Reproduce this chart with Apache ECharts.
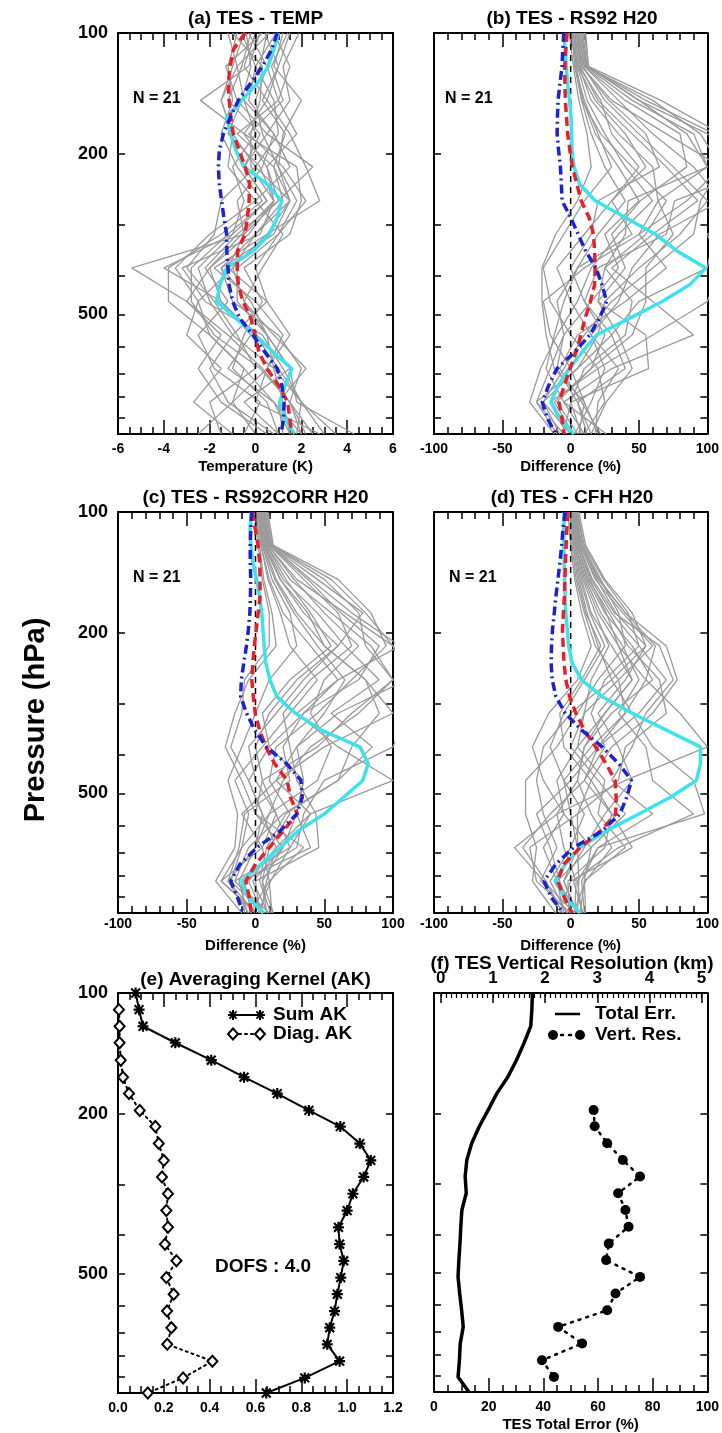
<!DOCTYPE html>
<html>
<head>
<meta charset="utf-8">
<script src="https://cdn.jsdelivr.net/npm/echarts@6/dist/echarts.min.js"></script>
<style>
  html, body { margin: 0; padding: 0; background: #fff; }
  #chart { width: 722px; height: 1433px; }
</style>
</head>
<body>
<div id="chart"></div>
<script>
// ---------- pressure levels (hPa) ----------
const LEVELS = [100, 110, 121, 133, 147, 162, 178, 196, 215, 237, 261, 287, 316, 348, 383, 422, 464, 511, 562, 619, 681, 749, 825, 908, 990];
const PROFILE_LEVELS = [100, 121, 147, 178, 215, 261, 316, 383, 464, 562, 681, 825, 990];
const P_MIN = 100;
const P_MAX = 990;
const P_TICKS = [100, 200, 300, 400, 500, 600, 700, 800, 900];
const P_LABELS = [100, 200, 500];

// ---------- (a) TES - TEMP, K ----------
const TEMP_RED  = [-0.45, -0.97, -1.1, -1.19, -1.15, -1.08, -0.97, -0.7, -0.45, -0.26, -0.28, -0.35, -0.46, -0.78, -0.8, -0.75, -0.55, -0.2, -0.02, 0.15, 0.5, 1.0, 1.4, 1.5, 1.58];
const TEMP_BLUE = [0.95, 0.7, 0.3, -0.2, -0.75, -1.1, -1.4, -1.58, -1.62, -1.58, -1.48, -1.38, -1.26, -1.25, -1.2, -1.15, -1.0, -0.68, -0.12, 0.4, 0.95, 1.15, 1.25, 1.22, 1.12];
const TEMP_CYAN = [1.0, 0.8, 0.55, 0.1, -0.6, -1.26, -1.08, -0.85, -0.5, 0.5, 1.14, 0.95, 0.6, -0.1, -1.26, -1.55, -1.7, -0.85, 0.0, 0.75, 1.58, 1.3, 1.05, 1.3, 1.7];
const TEMP_PROFILES = [
  [0.2, -0.3, -2.4, -0.5, 0.5, 1.0, -0.5, -5.4, -3.0, -1.2, 0.3, 1.5, 2.5],
  [1.5, 1.0, 0.5, 1.5, 2.2, 2.8, 0.5, -1.0, -0.5, 0.5, 1.5, 1.8, 4.3],
  [-0.8, -1.2, -1.0, -1.5, -0.8, 0.3, -1.5, -3.8, -3.8, -2.0, -0.5, 0.8, 1.5],
  [0.5, 0.2, -0.5, 0.8, 1.5, 0.0, -2.0, -3.5, -2.5, -3.0, -1.5, -2.7, -1.0],
  [-0.5, -1.0, -1.5, -1.0, 0.0, 1.5, 0.8, -1.5, -1.0, 1.0, 2.0, 1.5, 2.0],
  [1.0, 0.5, 0.0, 0.3, 1.0, 1.8, 1.0, 0.0, 0.5, 1.5, 0.5, -1.0, -2.5],
  [-1.2, -0.8, -0.5, 0.0, -1.0, -0.5, -1.0, -2.5, -2.0, -1.0, 0.8, 2.0, 3.0],
  [0.8, 1.5, 1.0, 1.8, 0.5, 0.8, -0.3, -2.0, -3.0, -1.5, -2.5, -1.5, 0.5],
  [0.0, -0.5, 0.5, -0.5, 1.8, 2.0, 1.5, -0.5, 0.3, -0.5, -1.0, 0.5, 1.0],
  [1.9, 1.2, 1.5, 0.5, -0.5, 0.5, -1.0, -4.0, -1.5, 0.0, 1.0, 2.0, 1.8],
  [-0.3, 0.5, 1.0, -0.8, 0.8, 1.2, 0.0, -1.0, -2.5, -2.0, -0.5, -1.0, 0.0],
  [0.6, -0.8, -1.5, -1.0, -1.2, 0.0, 1.2, 0.3, -0.5, 0.8, 2.2, 1.0, 1.2],
  [-0.6, 0.0, 0.8, 1.0, 0.0, -1.5, -1.8, -3.0, -1.8, -0.8, 0.0, -2.0, -1.5],
  [1.2, 0.8, 2.0, 1.2, 1.0, 1.5, 0.5, -1.8, 0.0, 1.2, 0.5, 0.0, 2.8],
  [0.3, -1.3, -0.8, 0.5, 2.5, 1.0, -0.8, -2.2, -1.2, -2.5, -1.8, 0.2, -0.5],
  [-1.0, 0.3, 0.2, -0.2, -0.2, 0.8, 0.2, -3.2, -2.2, 0.3, 1.2, 2.0, 3.5],
  [0.9, 0.0, -0.3, 0.8, 0.3, -0.8, -0.5, -1.2, 0.5, -1.0, -2.0, -1.2, 0.8],
  [1.4, 0.7, 1.2, -0.3, 1.2, 2.2, 1.0, -0.8, -0.8, 0.5, 0.8, 1.2, 1.5],
  [-0.2, -0.6, -1.2, 0.2, -0.5, 0.5, -1.2, -2.8, -2.8, -1.8, 0.2, 1.5, 2.2],
  [0.4, 1.0, 0.3, 1.3, 0.8, 1.5, 0.0, -1.5, -0.2, 0.5, 1.5, -0.5, 1.0],
  [-0.4, -0.2, -0.6, -1.2, 0.2, 0.8, -0.6, -2.0, -1.5, -0.2, -1.2, 0.8, 2.0]
];

// ---------- (b) TES - RS92 H2O, % ----------
const RS92_RED  = [-2.6, -3.5, -4.3, -4.2, -3.9, -3, -2.2, -0.5, 1.3, 4.5, 7.7, 13.5, 16.7, 17.5, 17.9, 17.5, 14.5, 10.5, 7.5, 4, -0.5, -4.5, -8.5, -6.3, -5];
const RS92_BLUE = [-5, -5.8, -6.3, -7.8, -9.2, -9.7, -9.9, -8.8, -7.5, -6.8, -6.3, 0, 5.5, 11, 18.5, 23, 26.3, 21, 14, 3, -10, -16, -20.8, -16.8, -11];
const RS92_CYAN = [-5, -4, -3.2, -2.3, -0.8, 0.3, 0.7, 1, 2.5, 6.5, 18, 40, 62, 78, 99, 87, 67, 43, 19, 8.5, -1, -9, -14.5, -7.5, 2.5];
const RS92_PROFILES = [
  [2, 4, 8, 15, 25, 40, 20, 5, -10, -5, -15, -25, -10],
  [5, 8, 30, 70, 110, 95, 90, 60, 30, 10, -5, -20, 0],
  [8, 12, 50, 100, 140, 76, 70, 20, 10, 25, 15, -10, 5],
  [3, 6, 15, 35, 60, 64, 50, 10, -20, -15, 0, 10, 20],
  [10, 13, 66, 110, 130, 110, 105, 100, 50, 30, 40, 5, 15],
  [1, 3, 10, 20, 30, 10, -5, -20, -15, 0, 20, 25, 10],
  [6, 10, 40, 80, 85, 51, 30, 40, 20, 55, 57, 0, -5],
  [4, 7, 20, 45, 70, 93, 60, 30, 60, 90, 30, -5, 26],
  [0, 5, 12, 25, 40, 60, 35, 15, 5, -10, -22, -30, -12],
  [7, 11, 45, 90, 100, 42, 40, 25, 45, 40, 10, 0, 8],
  [2, 5, 18, 40, 55, 30, 10, -10, 0, 15, 25, 15, 3],
  [9, 12, 55, 105, 120, 140, 100, 110, 100, 60, 20, -15, -3],
  [3, 4, 9, 18, 35, 50, 25, 35, 15, -5, -10, 5, 12],
  [5, 9, 25, 50, 75, 100, 80, 50, 25, 20, 5, -20, -8],
  [-1, 2, 6, 12, 15, 5, -11, -21, -21, -18, -12, 10, 6],
  [6, 10, 35, 60, 90, 110, 65, 45, 35, 15, 35, 20, 18],
  [4, 8, 28, 55, 65, 20, 15, 0, 10, 30, 5, -25, -5],
  [8, 11, 60, 95, 110, 85, 50, 70, 40, 5, -8, 8, 22],
  [1, 3, 8, 22, 45, 70, 55, 25, 20, 35, 45, 26, 15],
  [11, 13, 50, 85, 100, 64, 75, 55, 55, 45, 15, -12, 2],
  [3, 6, 22, 30, 50, 30, 45, 5, -5, -12, -18, -5, 10]
];

// ---------- (c) TES - RS92CORR H2O, % ----------
const CORR_RED  = [-2.2, -0.2, 1.8, 3, 3.3, 3.3, 2, 0.5, -0.8, -2, -2.7, -1.6, -0.2, 3, 7.5, 14, 23, 25.5, 30.4, 20.2, 10, 0, -7, -4.5, -3];
const CORR_BLUE = [-2.8, -3.4, -3.9, -3.8, -3.5, -3.7, -4.1, -5.2, -6.6, -8.5, -10.3, -10.8, -6.5, -0.5, 8, 22.7, 33, 34, 30, 18, 1, -11.3, -18, -13, -9];
const CORR_CYAN = [-3, -4, -3.3, -2, 0.8, 3, 4.6, 5.4, 6.3, 7.5, 10.5, 15.4, 29, 48, 76, 82, 78, 64, 50, 31, 18, 4, -10, -5, 5.7];
const CORR_PROFILES = [
  [2, 4, 10, 20, 40, 60, 35, 10, -5, 5, 0, -20, -5],
  [5, 8, 25, 55, 84, 100, 75, 40, 20, 10, -10, -25, 0],
  [7, 11, 40, 70, 105, 60, 30, 60, 100, 40, 15, -5, 5],
  [3, 6, 15, 30, 50, 80, 100, 50, 15, -10, 5, 10, 12],
  [8, 12, 55, 80, 100, 110, 60, 30, 35, 30, 40, -10, -8],
  [1, 3, 6, 12, 15, -5, -15, -22, -10, 0, 20, 5, 8],
  [6, 10, 35, 60, 70, 40, 20, 25, 30, 44, 46, 0, 3],
  [4, 7, 20, 45, 65, 90, 55, 85, 60, 20, -5, -15, 10],
  [2, 5, 12, 25, 30, 10, 0, -10, -20, -13, -15, -29, -10],
  [9, 13, 60, 84, 95, 70, 45, 15, 10, 25, 10, 5, 13],
  [3, 6, 18, 35, 60, 30, 10, 0, 5, 15, 25, 11, 2],
  [6, 9, 30, 65, 100, 120, 110, 100, 50, 35, 30, -8, -3],
  [2, 4, 9, 18, 25, 45, 25, 5, -15, -5, -10, -18, 6],
  [5, 9, 28, 50, 75, 50, 40, 55, 45, 10, 0, -12, -6],
  [1, 2, 5, 10, 10, -8, -10, -18, -5, 5, 15, 8, 4],
  [7, 10, 38, 62, 90, 75, 35, 20, 25, -8, -12, -20, 0],
  [4, 8, 22, 40, 55, 25, 5, 10, 35, 30, 20, -2, 9],
  [8, 12, 50, 75, 80, 100, 70, 45, 5, 0, 35, 10, -4],
  [3, 5, 14, 28, 45, 65, 50, 30, 15, 40, 25, -15, 7],
  [6, 11, 45, 78, 60, 35, 15, -5, 0, 15, 5, -25, 1],
  [4, 7, 18, 38, 50, 80, 90, 70, 60, 22, 8, 3, 11]
];

// ---------- (d) TES - CFH H2O, % ----------
const CFH_RED  = [-2.3, -2.8, -3.3, -3.8, -4.2, -4.6, -5.3, -6, -5.5, -4.9, -3.5, -0.8, 3.8, 10, 18.3, 26, 32.5, 33.3, 33, 22, 7, -5, -9.6, -4.5, 1];
const CFH_BLUE = [-4.2, -5.6, -6.6, -7.8, -9.3, -10.8, -12, -13.3, -14, -14.3, -13.5, -10.8, -4, 8, 23, 35.3, 44.5, 41, 36, 23.2, 2, -10.8, -19.5, -14, -5.5];
const CFH_CYAN = [-4.7, -5, -5, -4.8, -4.5, -4, -3.5, -2.5, -1.5, 1, 8, 23, 45, 70, 95, 95, 92, 73, 50, 26, 7, -4, -11.5, -4, 7];
const CFH_PROFILES = [
  [1, 3, 8, 15, 30, 45, 25, 5, -10, -5, -20, -10, -5],
  [4, 8, 20, 40, 70, 78, 60, 30, 15, 5, -30, -25, 0],
  [6, 11, 25, 45, 55, 40, 20, 35, 45, 25, 10, -5, 5],
  [2, 4, 10, 20, 35, 55, 80, 100, 40, -10, -41, -20, 3],
  [-2, 0, 3, 8, 15, 5, -16, -28, -20, -5, 15, 10, 11],
  [3, 6, 15, 30, 50, 70, 50, 20, 10, 30, 45, 0, -8],
  [5, 9, 22, 35, 40, 20, 5, -10, -33, -33, -25, -28, -11],
  [0, 2, 6, 12, 20, 30, 45, 60, 90, 98, 20, 5, 8],
  [2, 5, 12, 25, 45, 60, 30, 10, 5, 15, 30, 11, 2],
  [4, 7, 18, 38, 60, 35, 10, 0, 20, 40, 15, -10, 6],
  [1, 3, 7, 14, 25, 10, -5, -15, -5, 10, 0, -15, -3],
  [3, 6, 16, 32, 65, 75, 55, 45, 30, 60, 20, 8, 10],
  [5, 10, 24, 42, 50, 25, 15, 25, 10, -15, -35, -18, -6],
  [-1, 1, 4, 10, 18, 35, 40, 15, -5, 0, 5, -5, 4],
  [2, 4, 11, 22, 38, 50, 35, 55, 60, 90, 35, 2, 9],
  [3, 7, 19, 33, 55, 30, 0, -20, -25, -20, -10, -22, -2],
  [1, 4, 9, 18, 28, 15, 10, 5, 25, 20, 40, 10, 7],
  [4, 8, 21, 40, 62, 55, 40, 20, 0, -25, -15, -8, 1],
  [2, 5, 13, 28, 42, 65, 70, 40, 35, 5, 5, 6, 5],
  [0, 2, 5, 11, 22, 8, -8, -5, 15, 30, 25, -2, -1],
  [3, 6, 14, 26, 35, 45, 25, 10, 5, -10, -5, 4, 3]
];

// ---------- (e) averaging kernel ----------
const SUM_AK  = [0.077, 0.092, 0.109, 0.25, 0.407, 0.55, 0.695, 0.833, 0.97, 1.055, 1.103, 1.072, 1.025, 1.0, 0.962, 0.967, 0.985, 0.972, 0.957, 0.945, 0.924, 0.913, 0.967, 0.815, 0.647];
const DIAG_AK = [null, 0.004, 0.007, 0.007, 0.012, 0.022, 0.048, 0.095, 0.163, 0.178, 0.2, 0.192, 0.218, 0.211, 0.218, 0.205, 0.255, 0.211, 0.243, 0.214, 0.233, 0.215, 0.412, 0.284, 0.13];

// ---------- (f) total error (%) and vertical resolution (km) ----------
const TOTAL_ERR = [36, 35.8, 35.4, 33, 30.2, 27, 23, 19.8, 16.6, 13.8, 12, 11.4, 11.8, 10.2, 9.8, 9.5, 9.1, 8.8, 9.4, 10.1, 10.7, 9.6, 9.3, 8.8, 12.8];
const VR_LEVELS = [196, 215, 237, 261, 287, 316, 348, 383, 422, 464, 511, 562, 619, 681, 749, 825, 908];
const VR_KM     = [2.93, 2.95, 3.19, 3.49, 3.82, 3.40, 3.54, 3.60, 3.22, 3.17, 3.82, 3.35, 3.19, 2.25, 2.71, 1.94, 2.17];
const KM_LABELS = [0, 1, 2, 3, 4, 5];

// ---------- styling ----------
const FONT = '"Liberation Sans", Arial, Helvetica, sans-serif';
const GREY = '#9a9a9a';
const RED = '#e8202a';
const BLUE = '#1c22cf';
const CYAN = '#3fe1ea';
const ASTERISK = 'path://M0 8L20 8L20 12L0 12ZM12 0L12 20L8 20L8 0ZM0.6 3.4L3.4 0.6L19.4 16.6L16.6 19.4ZM16.6 0.6L19.4 3.4L3.4 19.4L0.6 16.6Z';

const GRIDS = [
  { left: 118, top: 33,  width: 275, height: 401 },
  { left: 434, top: 33,  width: 276, height: 401 },
  { left: 118, top: 512, width: 275, height: 401 },
  { left: 434, top: 512, width: 275, height: 401 },
  { left: 118, top: 993, width: 275, height: 400 },
  { left: 434, top: 993, width: 275, height: 400 }
];

const AXIS_LINE = { onZero: false, lineStyle: { color: '#000', width: 2 } };
const TICK_STYLE = { color: '#000', width: 1.5 };

function xAxes(g, cfg, mirror) {
  const base = {
    type: 'value', gridIndex: g, min: cfg.min, max: cfg.max, interval: cfg.interval,
    axisLine: AXIS_LINE,
    axisTick: { show: true, inside: true, length: 14, lineStyle: TICK_STYLE },
    minorTick: { show: true, splitNumber: cfg.split, length: 7, lineStyle: TICK_STYLE },
    splitLine: { show: false }, minorSplitLine: { show: false }
  };
  const bottom = Object.assign({}, base, {
    position: 'bottom',
    axisLabel: {
      show: true, margin: cfg.margin, showMinLabel: true, showMaxLabel: true,
      fontFamily: FONT, fontSize: 14, fontWeight: 'bold', color: '#000',
      formatter: cfg.fmt
    },
    name: cfg.name || '', nameLocation: 'middle', nameGap: 25,
    nameTextStyle: { fontFamily: FONT, fontSize: 15, fontWeight: 'bold', color: '#000' }
  });
  if (!mirror) return [bottom];
  const top = Object.assign({}, base, { position: 'top', axisLabel: { show: false } });
  return [bottom, top];
}

function yAxes(g, withLabels) {
  const base = {
    type: 'log', logBase: 10, gridIndex: g, inverse: true, min: P_MIN, max: P_MAX,
    axisLine: AXIS_LINE,
    axisTick: { show: true, inside: true, length: 7, customValues: P_TICKS, lineStyle: TICK_STYLE },
    minorTick: { show: false }, splitLine: { show: false }, minorSplitLine: { show: false }
  };
  return [
    Object.assign({}, base, {
      position: 'left',
      axisLabel: {
        show: withLabels, customValues: P_LABELS, margin: 10,
        formatter: v => String(Math.round(v)),
        fontFamily: FONT, fontSize: 18, fontWeight: 'bold', color: '#000'
      }
    }),
    Object.assign({}, base, { position: 'right', axisLabel: { show: false } })
  ];
}

const diffFmt = v => String(Math.round(v));
const xAxisList = [].concat(
  xAxes(0, { min: -6, max: 6, interval: 2, split: 4, margin: 8, name: 'Temperature (K)', fmt: diffFmt }, true),
  xAxes(1, { min: -100, max: 100, interval: 50, split: 5, margin: 8, name: 'Difference (%)', fmt: diffFmt }, true),
  xAxes(2, { min: -100, max: 100, interval: 50, split: 5, margin: 4, name: 'Difference (%)', fmt: diffFmt }, true),
  xAxes(3, { min: -100, max: 100, interval: 50, split: 5, margin: 4, name: 'Difference (%)', fmt: diffFmt }, true),
  xAxes(4, { min: 0, max: 1.2, interval: 0.2, split: 4, margin: 8, name: '', fmt: v => v.toFixed(1) }, true),
  xAxes(5, { min: 0, max: 100, interval: 20, split: 4, margin: 8, name: 'TES Total Error (%)', fmt: diffFmt }, false)
);

// top axis of panel (f): vertical resolution in km
const KM_MIN = -0.13, KM_MAX = 5.11;
const kmMinor = [];
for (let i = 0; i <= 50; i++) kmMinor.push(i / 10);
xAxisList.push({
  type: 'value', gridIndex: 5, position: 'top', min: KM_MIN, max: KM_MAX,
  axisLine: AXIS_LINE,
  axisTick: { show: true, inside: true, length: 10, customValues: KM_LABELS, lineStyle: TICK_STYLE },
  minorTick: { show: false }, splitLine: { show: false },
  axisLabel: {
    show: true, customValues: KM_LABELS, margin: 6, formatter: v => String(Math.round(v)),
    fontFamily: FONT, fontSize: 17, fontWeight: 'bold', color: '#000'
  }
});
xAxisList.push({
  type: 'value', gridIndex: 5, position: 'top', min: KM_MIN, max: KM_MAX,
  axisLine: { show: false },
  axisTick: { show: true, inside: true, length: 5, customValues: kmMinor, lineStyle: { color: '#000', width: 1.2 } },
  minorTick: { show: false }, splitLine: { show: false },
  axisLabel: { show: false }
});

const yAxisList = [].concat(
  yAxes(0, true), yAxes(1, false),
  yAxes(2, true), yAxes(3, false),
  yAxes(4, true), yAxes(5, false)
);

// ---------- series ----------
function pairs(xs, ps) { return xs.map((v, i) => [v, ps[i]]); }

function lineSeries(xi, yi, xs, ps, lineStyle, extra) {
  return Object.assign({
    type: 'line', xAxisIndex: xi, yAxisIndex: yi,
    data: pairs(xs, ps), symbol: 'none', silent: true,
    lineStyle: lineStyle, emphasis: { disabled: true }
  }, extra || {});
}

function differencePanel(axisIdx, profiles, red, blue, cyan) {
  const out = profiles.map(p => lineSeries(axisIdx, axisIdx, p, PROFILE_LEVELS, { color: GREY, width: 1.3 }));
  out.push(lineSeries(axisIdx, axisIdx, [0, 0], [P_MIN, P_MAX], { color: '#000', width: 1.5, type: [6, 5] }));
  out.push(lineSeries(axisIdx, axisIdx, cyan, LEVELS, { color: CYAN, width: 3.5 }));
  out.push(lineSeries(axisIdx, axisIdx, red, LEVELS, { color: RED, width: 3.5, type: [9, 5] }));
  out.push(lineSeries(axisIdx, axisIdx, blue, LEVELS, { color: BLUE, width: 3.5, type: [9, 4, 2, 4] }));
  return out;
}

const series = [].concat(
  differencePanel(0, TEMP_PROFILES, TEMP_RED, TEMP_BLUE, TEMP_CYAN),
  differencePanel(2, RS92_PROFILES, RS92_RED, RS92_BLUE, RS92_CYAN),
  differencePanel(4, CORR_PROFILES, CORR_RED, CORR_BLUE, CORR_CYAN),
  differencePanel(6, CFH_PROFILES, CFH_RED, CFH_BLUE, CFH_CYAN),
  [
    lineSeries(8, 8, DIAG_AK, LEVELS, { color: '#000', width: 2, type: [2, 4], cap: 'round' }, {
      symbol: 'emptyDiamond', symbolSize: [10, 11], itemStyle: { color: '#000', borderWidth: 2 }
    }),
    lineSeries(8, 8, SUM_AK, LEVELS, { color: '#000', width: 2 }, {
      symbol: ASTERISK, symbolSize: 11, itemStyle: { color: '#000' }
    }),
    lineSeries(10, 10, TOTAL_ERR, LEVELS, { color: '#000', width: 3.5 }),
    lineSeries(11, 10, VR_KM, VR_LEVELS, { color: '#000', width: 2.5, type: [2, 6], cap: 'round' }, {
      symbol: 'circle', symbolSize: 10, itemStyle: { color: '#000' }
    })
  ]
);

// ---------- text and legend keys ----------
function text(x, y, s, size, align, extra) {
  return Object.assign({
    type: 'text', x: x, y: y, silent: true,
    style: {
      text: s, fill: '#000', fontFamily: FONT, fontSize: size, fontWeight: 'bold',
      align: align || 'center', verticalAlign: 'middle'
    }
  }, extra || {});
}
function seg(x1, y1, x2, y2, w, dash) {
  return { type: 'line', silent: true, shape: { x1, y1, x2, y2 },
           style: { stroke: '#000', lineWidth: w, lineDash: dash || null, lineCap: dash ? 'round' : 'butt' } };
}
function asterisk(cx, cy) {
  const r = 5, d = 3.6;
  return [seg(cx - r, cy, cx + r, cy, 2), seg(cx, cy - r, cx, cy + r, 2),
          seg(cx - d, cy - d, cx + d, cy + d, 2), seg(cx - d, cy + d, cx + d, cy - d, 2)];
}
function diamond(cx, cy) {
  return { type: 'polygon', silent: true,
           shape: { points: [[cx, cy - 5.5], [cx + 5, cy], [cx, cy + 5.5], [cx - 5, cy]] },
           style: { fill: '#fff', stroke: '#000', lineWidth: 2 } };
}
function dot(cx, cy) {
  return { type: 'circle', silent: true, shape: { cx, cy, r: 5 }, style: { fill: '#000' } };
}

const graphics = [
  text(255.5, 19, '(a) TES - TEMP', 19),
  text(572, 19, '(b) TES - RS92 H20', 19),
  text(255.5, 498, '(c) TES - RS92CORR H20', 19),
  text(572, 498, '(d) TES - CFH H20', 19),
  text(255.5, 980, '(e) Averaging Kernel (AK)', 19),
  text(572, 964, '(f) TES Vertical Resolution (km)', 19),
  text(133, 99, 'N = 21', 16, 'left'),
  text(445, 99, 'N = 21', 16, 'left'),
  text(133, 578, 'N = 21', 16, 'left'),
  text(449, 578, 'N = 21', 16, 'left'),
  text(215, 1267, 'DOFS : 4.0', 19, 'left'),
  text(36, 720, 'Pressure (hPa)', 29, 'center', { rotation: Math.PI / 2 }),
  // legend of (e)
  seg(233, 1015, 260, 1015, 2),
  ...asterisk(233, 1015), ...asterisk(260, 1015),
  text(273, 1015, 'Sum AK', 19, 'left'),
  seg(233, 1034, 260, 1034, 2, [2, 4]),
  diamond(233, 1034), diamond(260, 1034),
  text(273, 1034, 'Diag. AK', 19, 'left'),
  // legend of (f)
  seg(555, 1014, 580, 1014, 2.5),
  text(595, 1014, 'Total Err.', 19, 'left'),
  seg(553, 1035, 580, 1035, 2.5, [2, 6]),
  dot(553, 1035), dot(580, 1035),
  text(595, 1035, 'Vert. Res.', 19, 'left')
];

const chart = echarts.init(document.getElementById('chart'), null, { renderer: 'canvas' });
chart.setOption({
  backgroundColor: '#fff',
  animation: false,
  grid: GRIDS,
  xAxis: xAxisList,
  yAxis: yAxisList,
  series: series,
  graphic: graphics
});
</script>
</body>
</html>
